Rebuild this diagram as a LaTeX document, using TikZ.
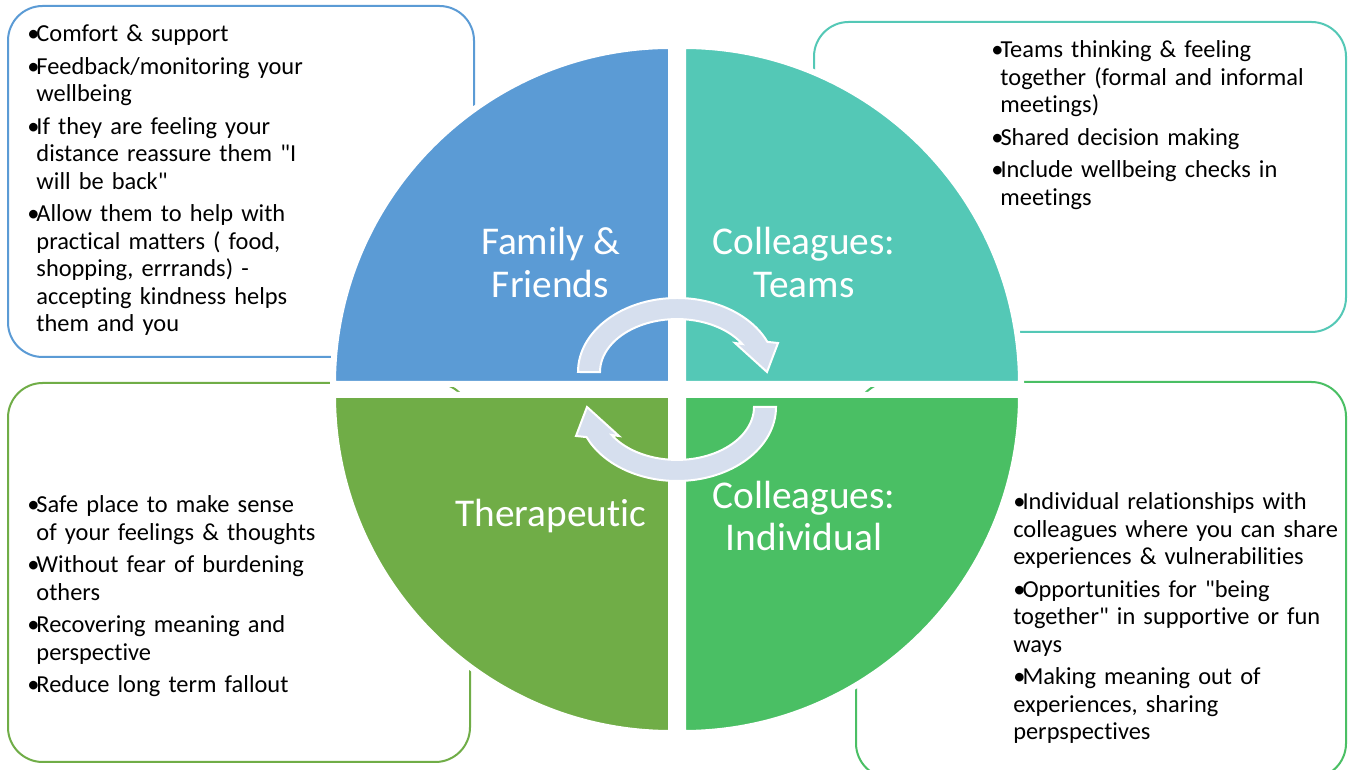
\documentclass[tikz,border=0pt]{standalone}
\usepackage{fontspec}
\setmainfont{Carlito}[Ligatures={TeXOff,NoCommon}]
\definecolor{famblue}{RGB}{91,155,213}
\definecolor{teamteal}{RGB}{84,200,182}
\definecolor{thergreen}{RGB}{112,173,71}
\definecolor{indgreen}{RGB}{74,191,100}
\definecolor{turnfill}{RGB}{214,223,238}
\newcommand{\bpt}{\makebox[6.9pt][l]{\textbullet}}
\newcommand{\hangpt}{\hangindent=6.9pt\hangafter=1\relax}

\begin{document}
\begin{tikzpicture}[x=0.75pt,y=0.75pt,
  infobox/.style={line width=1.5pt,rounded corners=26pt},
  quarter/.style={draw=white,line width=4.5pt},
  turnarrow/.style={fill=turnfill,draw=white,line width=1.5pt},
  boxtext/.style={anchor=base west,inner sep=0pt,text width=300pt,align=left,
    font=\fontsize{18.3}{20.6}\selectfont},
  quartlabel/.style={text=white,align=center,inner sep=0pt,
    font=\fontsize{29.5}{32}\selectfont}]
\path[use as bounding box,fill=white] (0,0) rectangle (1348,770);

% Boxes behind the circle
\draw[infobox,famblue] (8,764) rectangle (474,413);
\draw[infobox,teamteal] (814,748) rectangle (1346,438);
\draw[infobox,thergreen] (8,387) rectangle (470,8);
\draw[infobox,indgreen] (856,388) rectangle (1346,-8);

% Quadrants
\filldraw[quarter,fill=famblue] (671,386) -- (333,386) arc[start angle=180,end angle=90,radius=338] -- cycle;
\filldraw[quarter,fill=teamteal] (683,386) -- (683,724) arc[start angle=90,end angle=0,radius=338] -- cycle;
\filldraw[quarter,fill=thergreen] (671,375) -- (333,375) arc[start angle=180,end angle=270,radius=338] -- cycle;
\filldraw[quarter,fill=indgreen] (683,375) -- (1021,375) arc[start angle=0,end angle=-90,radius=338] -- cycle;

% Turning arrows in the middle
\filldraw[turnarrow] (578,398) arc[start angle=180,end angle=24,x radius=99,y radius=74]
  -- (778,427) -- (767,398) -- (735,427)
  -- (742.3,426) arc[start angle=32,end angle=180,x radius=77,y radius=53] -- cycle;
\begin{scope}[rotate around={180:(677,380.5)}]
\filldraw[turnarrow] (578,398) arc[start angle=180,end angle=24,x radius=99,y radius=74]
  -- (778,427) -- (767,398) -- (735,427)
  -- (742.3,426) arc[start angle=32,end angle=180,x radius=77,y radius=53] -- cycle;
\end{scope}

% Labels
\node[quartlabel] (famlabel) at (550.5,507.5) {Family \&\\Friends};
\node[quartlabel] (teamlabel) at (804,507.5) {Colleagues:\\Teams};
\node[quartlabel] (therlabel) at (551,254) {Therapeutic};
\node[quartlabel] (indlabel) at (804,254) {Colleagues:\\Individual};

% Bullet texts
\node[boxtext] (famtext) at (27,728) {\setlength{\parskip}{3.75pt}%
\hangpt\bpt Comfort \& support\par
\hangpt\bpt Feedback/monitoring your\newline wellbeing\par
\hangpt\bpt If they are feeling your\newline distance reassure them "I\newline will be back"\par
\hangpt\bpt Allow them to help with\newline practical matters ( food,\newline shopping, errrands) -\newline accepting kindness helps\newline them and you\par};
\node[boxtext] (teamtext) at (991,712) {\setlength{\parskip}{3.75pt}%
\hangpt\bpt Teams thinking \& feeling\newline together (formal and informal\newline meetings)\par
\hangpt\bpt Shared decision making\par
\hangpt\bpt Include wellbeing checks in\newline meetings\par};
\node[boxtext] (thertext) at (27,257) {\setlength{\parskip}{3.75pt}%
\hangpt\bpt Safe place to make sense\newline of your feelings \& thoughts\par
\hangpt\bpt Without fear of burdening\newline others\par
\hangpt\bpt Recovering meaning and\newline perspective\par
\hangpt\bpt Reduce long term fallout\par};
\node[boxtext] (indtext) at (1013,260) {\setlength{\parskip}{3.75pt}%
\bpt Individual relationships with\newline colleagues where you can share\newline experiences \& vulnerabilities\par
\bpt Opportunities for "being\newline together" in supportive or fun\newline ways\par
\bpt Making meaning out of\newline experiences, sharing\newline perpspectives\par};
\end{tikzpicture}
\end{document}
